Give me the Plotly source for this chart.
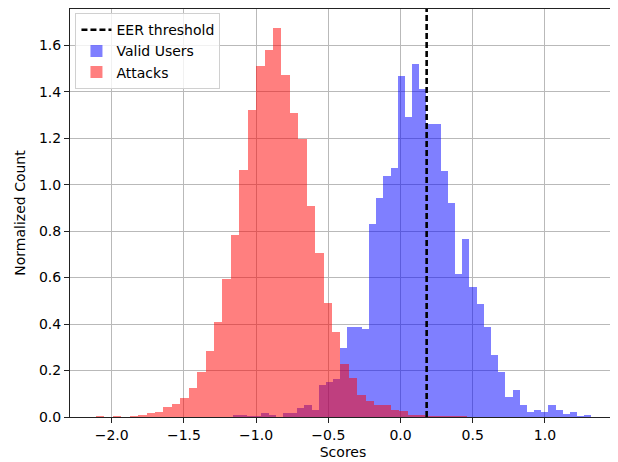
import numpy as np
import plotly.graph_objects as go

# ---- data ----
attack_bin_start = -2.109
attack_bin_width = 0.05837
attack_density = [
    0.003, 0.002, 0.003, 0.002, 0.005, 0.009, 0.016, 0.022, 0.041, 0.056,
    0.081, 0.126, 0.192, 0.286, 0.407, 0.596, 0.783, 1.063, 1.322, 1.512,
    1.578, 1.673, 1.474, 1.307, 1.198, 0.910, 0.704, 0.489, 0.366, 0.228,
    0.166, 0.096, 0.071, 0.053, 0.050, 0.032, 0.026, 0.010, 0.010, 0.006,
    0.005, 0.004, 0.004, 0.003, 0.0, 0.0, 0.0, 0.0, 0.0, 0.0,
]

valid_bin_start = -1.1625
valid_bin_width = 0.0497
valid_density = [
    0.009, 0.009, 0.003, 0.004, 0.019, 0.009, 0.0, 0.019, 0.019, 0.040,
    0.050, 0.029, 0.139, 0.150, 0.162, 0.295, 0.389, 0.389, 0.379, 0.831,
    0.943, 1.039, 1.071, 1.467, 1.293, 1.520, 1.410, 1.260, 1.260, 1.060,
    0.919, 0.614, 0.767, 0.561, 0.486, 0.389, 0.269, 0.193, 0.084, 0.118,
    0.053, 0.022, 0.032, 0.022, 0.053, 0.032, 0.012, 0.022, 0.004, 0.010,
]

eer_threshold = 0.181

x_ticks = [-2.0, -1.5, -1.0, -0.5, 0.0, 0.5, 1.0]
y_ticks = [0.0, 0.2, 0.4, 0.6, 0.8, 1.0, 1.2, 1.4, 1.6]
x_range = [-2.289, 1.4924]
y_range = [0.0, 1.756]

# ---- build ----
attack_centers = attack_bin_start + (np.arange(len(attack_density)) + 0.5) * attack_bin_width
valid_centers = valid_bin_start + (np.arange(len(valid_density)) + 0.5) * valid_bin_width

FONT = "DejaVu Sans"

fig = go.Figure()
fig.add_trace(go.Bar(
    x=valid_centers, y=valid_density, width=valid_bin_width,
    name="Valid Users", marker=dict(color="rgba(0,0,255,0.5)", line=dict(width=0)),
    legendrank=2,
))
fig.add_trace(go.Bar(
    x=attack_centers, y=attack_density, width=attack_bin_width,
    name="Attacks", marker=dict(color="rgba(255,0,0,0.5)", line=dict(width=0)),
    legendrank=3,
))
fig.add_trace(go.Scatter(
    x=[eer_threshold, eer_threshold], y=[y_range[0], y_range[1]],
    mode="lines", name="EER threshold",
    line=dict(color="black", width=2.6, dash="6px,3px"),
    legendrank=1,
))

axis_common = dict(
    showgrid=True, gridcolor="#b9b9b9", gridwidth=1,
    showline=True, mirror=True, linecolor="#222222", linewidth=1,
    ticks="outside", ticklen=5, tickwidth=1, tickcolor="#222222",
    tickfont=dict(family=FONT, size=14, color="black"),
    zeroline=False, layer="above traces",
)

# the page body keeps an 8px margin, so the figure is 8px smaller on each side
fig.update_layout(
    width=610, height=454,
    margin=dict(l=62, r=2, t=1, b=45, autoexpand=False),
    paper_bgcolor="white", plot_bgcolor="white",
    barmode="overlay", bargap=0,
    font=dict(family=FONT, size=14, color="black"),
    showlegend=True,
    legend=dict(
        x=0.01, y=0.99, xanchor="left", yanchor="top",
        bgcolor="rgba(255,255,255,0.8)", bordercolor="#d0d0d0", borderwidth=1,
        font=dict(family=FONT, size=14, color="black"),
        tracegroupgap=0, itemwidth=30,
    ),
    xaxis=dict(
        range=x_range, tickvals=x_ticks, tickformat=".1f",
        title=dict(text="Scores", standoff=5, font=dict(family=FONT, size=14)),
        automargin=False, **axis_common,
    ),
    yaxis=dict(
        range=y_range, tickvals=y_ticks, tickformat=".1f",
        title=dict(text="Normalized Count", standoff=10, font=dict(family=FONT, size=14)),
        automargin=False, **axis_common,
    ),
)

fig.write_html("out.html")
